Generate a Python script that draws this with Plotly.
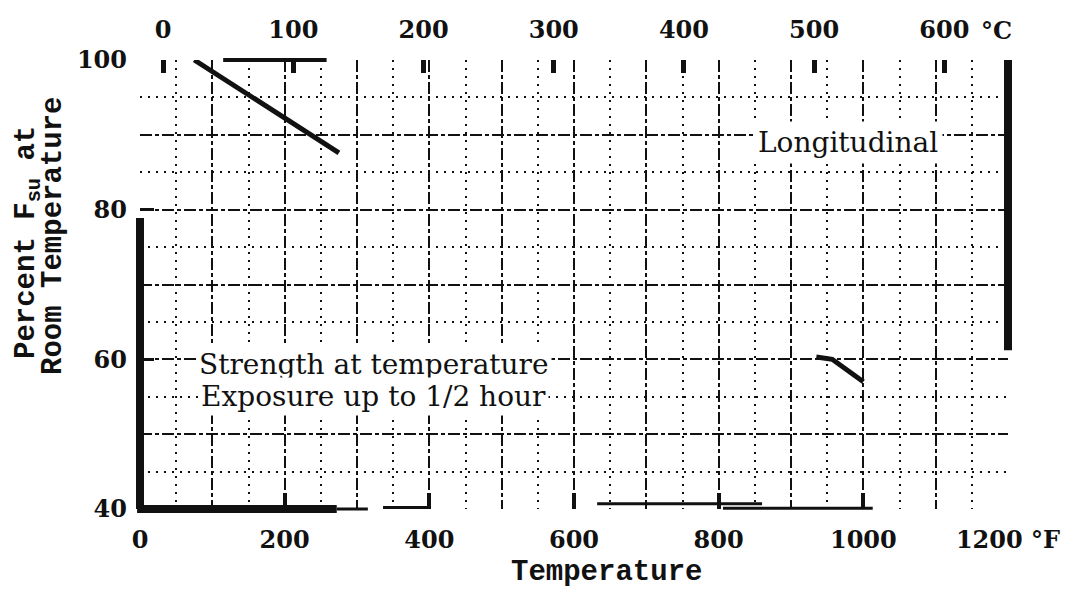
import plotly.graph_objects as go

# Curves: percent of room-temperature ultimate shear strength vs temperature (deg F)
curve1_temp_f = [75, 275]
curve1_pct = [100, 87.6]
curve2_temp_f = [935, 957, 1000]
curve2_pct = [60.3, 60.0, 57.0]

# Axis ticks
f_ticks = [0, 200, 400, 600, 800, 1000, 1200]
f_labels = ["0", "200", "400", "600", "800", "1000", "1200 \u00b0F"]
c_ticks = [0, 100, 200, 300, 400, 500, 600]
c_labels = ["0", "100", "200", "300", "400", "500", "600"]
pct_ticks = [40, 60, 80, 100]
pct_labels = ["40", "60", "80", "100"]

X_RANGE = [0, 1200]
Y_RANGE = [40, 100]

# Plot-area geometry in pixels
W, H = 1076, 590
ML, MR, MT, MB = 140, 68, 60, 81
PW, PH = W - ML - MR, H - MT - MB


def px_x(px):
    return (px - ML) / PW


def px_y(py):
    return (H - MB - py) / PH


def data_x(v):
    return (v - X_RANGE[0]) / (X_RANGE[1] - X_RANGE[0])


def data_y(v):
    return (v - Y_RANGE[0]) / (Y_RANGE[1] - Y_RANGE[0])


INK = "#111111"
TICK_FONT = dict(family="DejaVu Serif", size=24, color=INK, weight="bold")
TITLE_FONT = dict(family="Liberation Mono", size=29, color=INK, weight="bold")
NOTE_FONT = dict(family="DejaVu Serif", size=28, color=INK)
MAJOR_DASH = "12px,3px,4px,3px"
MINOR_DASH = "2px,6px"

fig = go.Figure()

fig.add_trace(go.Scatter(x=curve1_temp_f, y=curve1_pct, mode="lines",
                         line=dict(color=INK, width=5), showlegend=False,
                         hoverinfo="skip"))
fig.add_trace(go.Scatter(x=curve2_temp_f, y=curve2_pct, mode="lines",
                         line=dict(color=INK, width=5), showlegend=False,
                         hoverinfo="skip"))
# invisible carriers so the auxiliary axes are rendered
fig.add_trace(go.Scatter(x=curve1_temp_f, y=curve1_pct, xaxis="x2", yaxis="y",
                         mode="lines", line=dict(width=0), showlegend=False,
                         hoverinfo="skip"))
fig.add_trace(go.Scatter(x=curve1_temp_f, y=curve1_pct, xaxis="x3", yaxis="y2",
                         mode="lines", line=dict(width=0), showlegend=False,
                         hoverinfo="skip"))

c_in_f = [32 + 1.8 * c for c in c_ticks]

fig.update_layout(
    width=W, height=H,
    margin=dict(l=ML, r=MR, t=MT, b=MB),
    paper_bgcolor="white", plot_bgcolor="white",
    xaxis=dict(
        range=X_RANGE, tickvals=f_ticks, ticktext=f_labels,
        ticks="inside", ticklen=16, tickwidth=4, tickcolor=INK,
        tickfont=TICK_FONT, ticklabelstandoff=14,
        showgrid=True, gridcolor=INK, gridwidth=2, griddash=MAJOR_DASH,
        minor=dict(tickmode="linear", tick0=0, dtick=100, showgrid=True,
                   gridcolor=INK, gridwidth=2, griddash=MAJOR_DASH, ticks=""),
        zeroline=False, showline=False,
    ),
    xaxis2=dict(
        range=X_RANGE, overlaying="x", side="top", anchor="y",
        tickvals=c_in_f, ticktext=c_labels,
        ticks="inside", ticklen=13, tickwidth=5, tickcolor=INK,
        tickfont=TICK_FONT, ticklabelstandoff=16,
        showgrid=False, zeroline=False, showline=False,
    ),
    xaxis3=dict(
        range=X_RANGE, overlaying="x", anchor="y2", showticklabels=False,
        tickvals=list(range(50, 1200, 100)), ticks="",
        showgrid=True, gridcolor=INK, gridwidth=2, griddash=MINOR_DASH,
        zeroline=False, showline=False,
    ),
    yaxis=dict(
        range=Y_RANGE, tickvals=pct_ticks, ticktext=pct_labels,
        ticks="inside", ticklen=14, tickwidth=3, tickcolor=INK,
        tickfont=TICK_FONT, ticklabelstandoff=12,
        showgrid=True, gridcolor=INK, gridwidth=2, griddash=MAJOR_DASH,
        minor=dict(tickmode="linear", tick0=40, dtick=10, showgrid=True,
                   gridcolor=INK, gridwidth=2, griddash=MAJOR_DASH, ticks=""),
        zeroline=False, showline=False,
    ),
    yaxis2=dict(
        range=Y_RANGE, overlaying="y", showticklabels=False,
        tickvals=list(range(45, 100, 10)), ticks="",
        showgrid=True, gridcolor=INK, gridwidth=2, griddash=MINOR_DASH,
        zeroline=False, showline=False,
    ),
)

# heavy frame segments (deg F, percent, width px)
frame = [
    (0, 40, 0, 78.9, 8),
    (-4, 40, 272, 40, 8),
    (272, 40, 315, 40, 3),
    (336, 40.2, 401, 40.2, 3),
    (632, 40.7, 860, 40.7, 3),
    (806, 40.1, 1013, 40.1, 3),
    (1200, 100, 1200, 61.2, 8),
    (115, 100, 258, 100, 4),
]
for x0, y0, x1, y1, w in frame:
    fig.add_shape(type="line", xref="paper", yref="paper",
                  x0=data_x(x0), y0=data_y(y0), x1=data_x(x1), y1=data_y(y1),
                  line=dict(color=INK, width=w), layer="above")

ann = [
    dict(text="\u00b0C", x=px_x(996), y=px_y(30), font=TICK_FONT),
    dict(text="Temperature", x=px_x(606), y=px_y(572), font=TITLE_FONT),
    dict(text="Percent F<sub>su</sub> at", x=px_x(28), y=px_y(243),
         font=TITLE_FONT, textangle=-90),
    dict(text="Room Temperature", x=px_x(53), y=px_y(236),
         font=TITLE_FONT, textangle=-90),
    dict(text="Longitudinal", x=px_x(753), y=px_y(142), font=NOTE_FONT,
         xanchor="left", bgcolor="white", borderpad=4),
    dict(text="Strength at temperature", x=px_x(196), y=px_y(364),
         font=NOTE_FONT, xanchor="left", bgcolor="white", borderpad=2),
    dict(text="Exposure up to 1/2 hour", x=px_x(198), y=px_y(396),
         font=NOTE_FONT, xanchor="left", bgcolor="white", borderpad=2),
]
for a in ann:
    a.setdefault("xanchor", "center")
    a.setdefault("bgcolor", "rgba(0,0,0,0)")
    fig.add_annotation(xref="paper", yref="paper", showarrow=False,
                       yanchor="middle", **a)

fig.write_html("out.html")
